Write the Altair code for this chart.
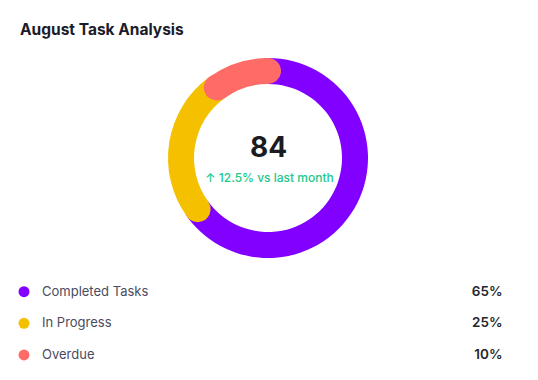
import math
import altair as alt
import pandas as pd

# ---- data ----
categories = ["Completed Tasks", "In Progress", "Overdue"]
values = [65, 25, 10]
pct_labels = ["65%", "25%", "10%"]
colors = ["#8200ff", "#f4c000", "#ff6b66"]
title_text = "August Task Analysis"
center_value = "84"
center_sub = "↑ 12.5% vs last month"

# ---- derived table ----
total = sum(values)
cap = 0.15  # overlap so rounded caps sit over the neighbouring segment
rows = []
cum = 0
for i, (c, v, p) in enumerate(zip(categories, values, pct_labels)):
    start = cum / total * 2 * math.pi
    cum += v
    end = cum / total * 2 * math.pi
    rows.append(dict(category=c, value=v, pct=p, start=start - cap, end=end + cap, idx=i))
df = pd.DataFrame(rows)

FONT = "Inter"
color_scale = alt.Scale(domain=categories, range=colors)

base = alt.Chart(df)

ring = base.mark_arc(innerRadius=74, outerRadius=100, cornerRadius=13).encode(
    theta=alt.Theta("start:Q", scale=None),
    theta2="end:Q",
    color=alt.Color("category:N", scale=color_scale, legend=None),
    x=alt.value(260),
    y=alt.value(150),
)

title = alt.Chart(pd.DataFrame({"t": [title_text]})).mark_text(
    font=FONT, fontSize=15.5, fontWeight="bold", color="#1b1b2a", align="left", baseline="alphabetic"
).encode(text="t:N", x=alt.value(12), y=alt.value(27))

big = alt.Chart(pd.DataFrame({"t": [center_value]})).mark_text(
    font=FONT, fontSize=28, fontWeight="bold", color="#1b1b24", align="center", baseline="alphabetic"
).encode(text="t:N", x=alt.value(260.5), y=alt.value(149))

sub = alt.Chart(pd.DataFrame({"t": [center_sub]})).mark_text(
    font=FONT, fontSize=12, fontWeight=500, color="#22c98a", align="center", baseline="alphabetic"
).encode(text="t:N", x=alt.value(261.5), y=alt.value(173.5))

yenc = alt.Y("category:N", sort=categories, axis=None,
             scale=alt.Scale(type="point", range=[283.7, 347], padding=0))

dots = base.mark_point(filled=True, size=120, opacity=1, shape="circle").encode(
    y=yenc,
    x=alt.value(16),
    color=alt.Color("category:N", scale=color_scale, legend=None),
)

labels = base.mark_text(
    font=FONT, fontSize=13, color="#4a4c60", align="left", baseline="middle"
).encode(y=yenc, x=alt.value(34), text="category:N")

pcts = base.mark_text(
    font=FONT, fontSize=13.5, fontWeight=600, color="#26262e", align="right", baseline="middle"
).encode(y=yenc, x=alt.value(494.5), text="pct:N")

chart = alt.layer(ring, title, big, sub, dots, labels, pcts).properties(
    width=522, height=364, autosize=alt.AutoSizeParams(type="none"), padding=0,
    background="white",
).configure_view(stroke=None)

chart.save("out.html", embed_options={"renderer": "svg", "actions": False})
